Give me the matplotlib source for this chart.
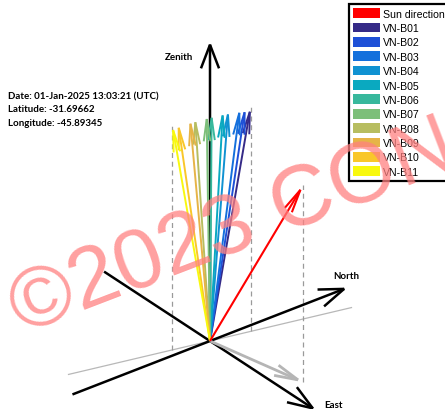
import numpy as np
import matplotlib
matplotlib.use("Agg")
import matplotlib.pyplot as plt
from matplotlib.patches import FancyArrowPatch, ArrowStyle, Patch

# observation info
info_lines = ["Date: 01-Jan-2025 13:03:21 (UTC)",
              "Latitude: -31.69662",
              "Longitude: -45.89345"]

# sun direction, degrees (azimuth from north, elevation above horizon)
sun_azim = 78.8
sun_elev = 61.5

# beam pointing directions, degrees
beam_names = ["VN-B01", "VN-B02", "VN-B03", "VN-B04", "VN-B05", "VN-B06",
              "VN-B07", "VN-B08", "VN-B09", "VN-B10", "VN-B11"]
beam_azim = [12.5, 12.5, 12.5, 12.5, 12.5, 12.5,
             192.5, 192.5, 192.5, 192.5, 192.5]
beam_elev = [80.2, 81.5, 82.8, 85.6, 86.9, 89.6,
             89.2, 86.4, 85.2, 82.3, 80.9]
beam_colors = ["#352a87", "#1e50d7", "#1470dc", "#1092d2", "#0aa9c0", "#38b89c",
               "#7dbf7a", "#b7bd60", "#e6b447", "#f9c72a", "#f8f80f"]

sun_len = 1.5
beam_len = 1.53
zenith_len = 2.0
track_azim = 12.5
track_len = 0.9

# camera
view_elev = 30.3
view_rot = 37.6
px_per_unit = 173.6
W, H = 445, 410
x0_px, y0_px = 210, 342


def proj(e, n, u):
    el = np.radians(view_elev)
    ph = np.radians(view_rot)
    x = e * np.sin(ph) + n * np.cos(ph)
    y = np.sin(el) * (n * np.sin(ph) - e * np.cos(ph)) + u * np.cos(el)
    return x, y


def direction(az, el, length):
    az, el = np.radians(az), np.radians(el)
    return (length * np.cos(el) * np.sin(az),
            length * np.cos(el) * np.cos(az),
            length * np.sin(el))


def arrow(p0, p1, color, lw, hl, hw, z=2):
    a = FancyArrowPatch(proj(*p0), proj(*p1),
                        arrowstyle=ArrowStyle("->", head_length=hl, head_width=hw),
                        mutation_scale=1, color=color, lw=lw,
                        shrinkA=0, shrinkB=0, joinstyle="miter",
                        capstyle="butt", zorder=z)
    ax.add_patch(a)


def line(p0, p1, **kw):
    xa, ya = proj(*p0)
    xb, yb = proj(*p1)
    ax.plot([xa, xb], [ya, yb], **kw)


fig = plt.figure(figsize=(W / 100, H / 100), dpi=100)
ax = fig.add_axes([0, 0, 1, 1])
ax.set_xlim(-x0_px / px_per_unit, (W - x0_px) / px_per_unit)
ax.set_ylim(-(H - y0_px) / px_per_unit, y0_px / px_per_unit)
ax.axis("off")

origin = (0, 0, 0)

# ground line through the beam plane
te, tn, _ = direction(track_azim, 0, track_len)
line((-te, -tn, 0), (te, tn, 0), color="#b8b8b8", lw=0.9, zorder=1)

# compass axes and zenith
arrow((0, -1, 0), (0, 1, 0), "black", 1.8, 18, 6.5)
arrow((-1, 0, 0), (1, 0, 0), "black", 1.8, 18, 6.5)
arrow(origin, (0, 0, zenith_len), "black", 1.8, 17, 6.5)

# sun vector and its ground projection
se, sn, su = direction(sun_azim, sun_elev, sun_len)
arrow(origin, (se, sn, 0), "#b5b5b5", 2.0, 17, 4, z=2)
line((se, sn, 0), (se, sn, su), color="#9a9a9a", lw=0.9, ls=(0, (4, 3)), zorder=1)
arrow(origin, (se, sn, su), "red", 1.5, 17, 3, z=4)

# beam vectors, with drop lines for the outermost ones
for i, (az, el, c) in enumerate(zip(beam_azim, beam_elev, beam_colors)):
    be, bn, bu = direction(az, el, beam_len)
    arrow(origin, (be, bn, bu), c, 1.4, 16, 2.4, z=3)
    if i in (0, len(beam_names) - 1):
        line((be, bn, 0), (be, bn, bu), color="#9a9a9a", lw=0.9,
             ls=(0, (4, 3)), zorder=1)

lab_font = dict(family="Lato", weight="bold", size=7)
ax.annotate("North", proj(0, 1, 0), xytext=(-0.7, 8.5), textcoords="offset points",
            ha="center", va="center", annotation_clip=False, **lab_font)
ax.annotate("East", proj(1, 0, 0), xytext=(12.5, 4.5), textcoords="offset points",
            ha="center", va="center", annotation_clip=False, **lab_font)
ax.annotate("Zenith", proj(0, 0, zenith_len), xytext=(-22, -11), textcoords="offset points",
            ha="center", va="center", annotation_clip=False, **lab_font)

for k, s in enumerate(info_lines):
    fig.text(8 / W, 1 - (97 + 13 * k) / H, s, ha="left", va="center", **lab_font)

handles = [Patch(fc="red", ec="none", label="Sun direction")]
handles += [Patch(fc=c, ec="none", label=n) for c, n in zip(beam_colors, beam_names)]
leg = fig.legend(handles=handles, loc="upper left",
                 bbox_to_anchor=(349 / W, 1 - 5 / H), bbox_transform=fig.transFigure,
                 borderaxespad=0, fancybox=False, frameon=True, edgecolor="black",
                 framealpha=1, prop=dict(family="Liberation Sans", size=7.6),
                 handlelength=2.56, handleheight=1.04, labelspacing=0.37,
                 borderpad=0.4, handletextpad=0.26)
leg.get_frame().set_linewidth(1.6)

fig.text(22 / W, 1 - 334 / H, "\u00a92023 CON", family="Liberation Sans", size=62,
         color="#ff8080", alpha=0.75, rotation=21, rotation_mode="anchor",
         ha="left", va="baseline", zorder=10)

fig.savefig("out.png", dpi=100)
